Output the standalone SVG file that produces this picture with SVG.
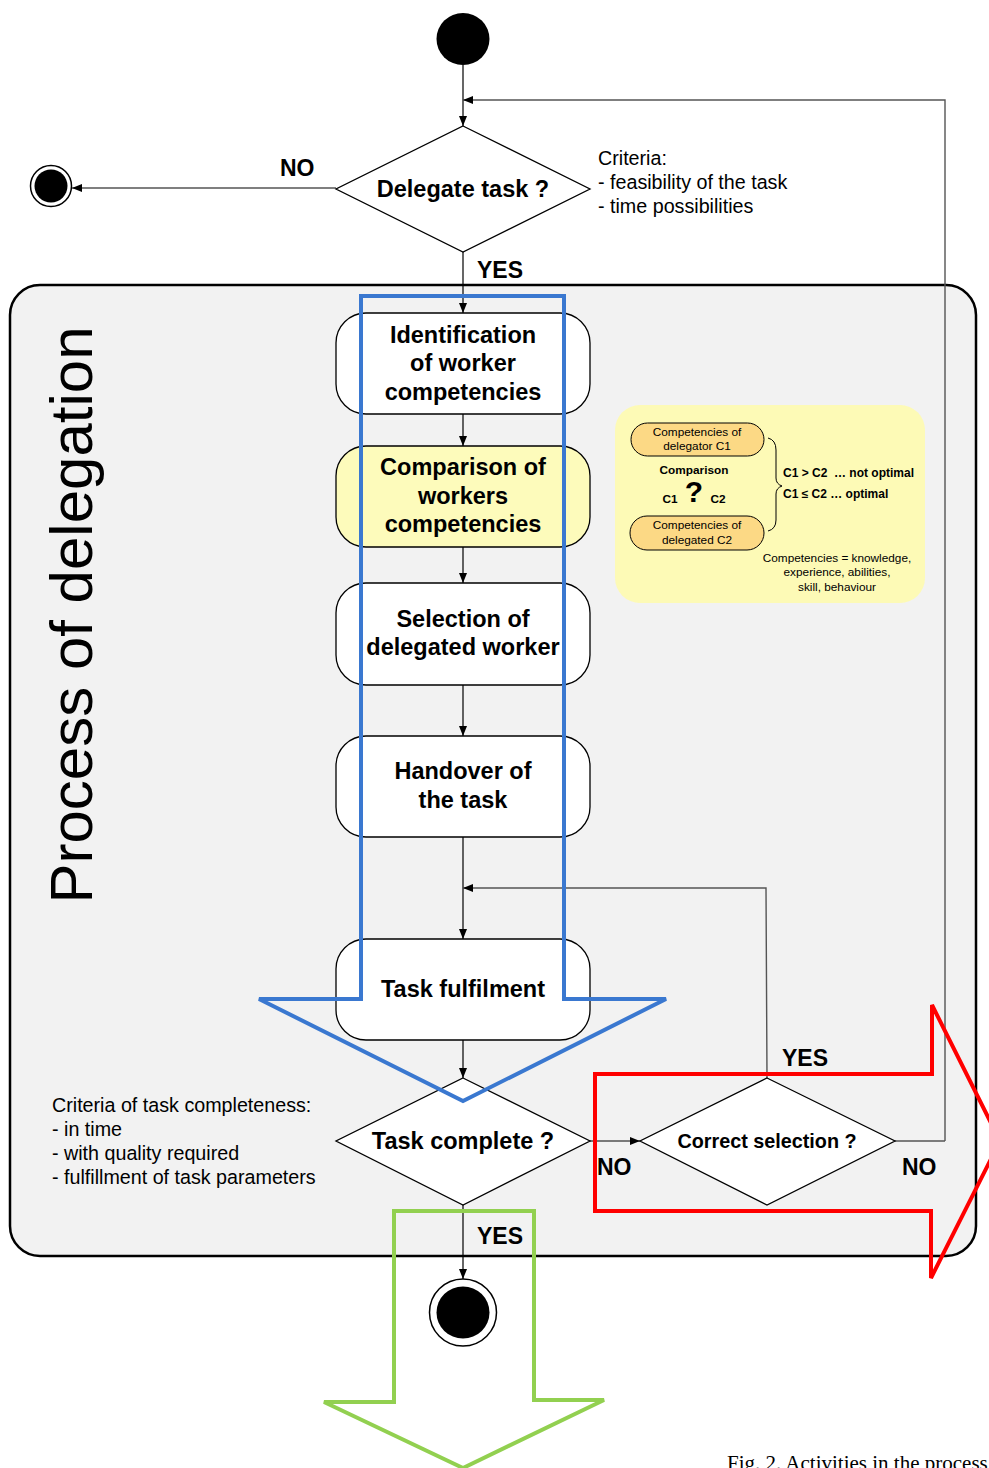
<svg xmlns="http://www.w3.org/2000/svg" width="989" height="1468" viewBox="0 0 989 1468">
<defs>
<marker id="ah" viewBox="0 0 10 10" refX="10" refY="5" markerWidth="10" markerHeight="10" markerUnits="userSpaceOnUse" orient="auto">
<path d="M0,1 L10,5 L0,9 Z" fill="#000"/>
</marker>
<style>
.bg{fill:#fff}
.lane{fill:#f2f2f2;stroke:#000;stroke-width:2.5}
.act{fill:#fff;stroke:#000;stroke-width:1.3}
.act2{fill:#fdfbbb;stroke:#000;stroke-width:1.3}
.dec{fill:#fff;stroke:#000;stroke-width:1.3}
.ln{fill:none;stroke:#000;stroke-width:1.2}
.lg{fill:none;stroke:#555;stroke-width:1.4}
.t{font-family:"Liberation Sans",Arial,sans-serif;fill:#000}
.tb{font-family:"Liberation Sans",Arial,sans-serif;font-weight:bold;fill:#000;text-anchor:middle}
.lbl{font-family:"Liberation Sans",Arial,sans-serif;font-weight:bold;font-size:23px;fill:#000}
.big{fill:none;stroke-width:4;stroke-linejoin:miter}
</style>
</defs>
<rect class="bg" x="0" y="0" width="989" height="1468"/>

<g id="lane">
<rect class="lane" x="10" y="285" width="966" height="971" rx="30"/>
<text class="t" transform="translate(92,615) rotate(-90)" font-size="60" text-anchor="middle">Process of delegation</text>
</g>

<g id="start"><ellipse cx="463" cy="39" rx="26.5" ry="26" fill="#000"/></g>
<g id="end-top">
<circle cx="51" cy="186" r="20.5" fill="#fff" stroke="#000" stroke-width="1.5"/>
<circle cx="51" cy="186" r="16.5" fill="#000"/>
</g>
<g id="end-bottom">
<ellipse cx="463" cy="1312.5" rx="33.5" ry="33.5" fill="#fff" stroke="#000" stroke-width="1.5"/>
<ellipse cx="463" cy="1312.5" rx="26.5" ry="26" fill="#000"/>
</g>

<g id="connectors">
<path class="ln" d="M463,65 V126" marker-end="url(#ah)"/>
<path class="lg" d="M945,1141 V100 H463" marker-end="url(#ah)"/>
<path class="lg" d="M336,188 H72" marker-end="url(#ah)"/>
<path class="ln" d="M463,252 V313" marker-end="url(#ah)"/>
<path class="ln" d="M463,414 V446" marker-end="url(#ah)"/>
<path class="ln" d="M463,547 V583" marker-end="url(#ah)"/>
<path class="ln" d="M463,685 V736" marker-end="url(#ah)"/>
<path class="ln" d="M463,837 V939" marker-end="url(#ah)"/>
<path class="lg" d="M767,1078 L766,888 H463" marker-end="url(#ah)"/>
<path class="ln" d="M463,1040 V1078" marker-end="url(#ah)"/>
<path class="ln" d="M590,1141 H640" marker-end="url(#ah)"/>
<path class="lg" d="M895,1141 H945"/>
<path class="ln" d="M463,1205 V1279" marker-end="url(#ah)"/>
</g>

<g id="d-delegate">
<polygon class="dec" points="463,126 590,189 463,252 336,189"/>
<text class="tb" x="463" y="197" font-size="23.5">Delegate task ?</text>
</g>
<g id="criteria">
<text class="t" x="598" y="165" font-size="19.7">Criteria:</text>
<text class="t" x="598" y="189" font-size="19.7">- feasibility of the task</text>
<text class="t" x="598" y="213" font-size="19.7">- time possibilities</text>
</g>
<g id="labels">
<text class="lbl" x="280" y="176">NO</text>
<text class="lbl" x="477" y="278">YES</text>
<text class="lbl" x="782" y="1066">YES</text>
<text class="lbl" x="597" y="1175">NO</text>
<text class="lbl" x="902" y="1175">NO</text>
<text class="lbl" x="477" y="1244">YES</text>
</g>

<g id="a1">
<rect class="act" x="336" y="313" width="254" height="101" rx="30"/>
<text class="tb" font-size="23.5"><tspan x="463" y="343">Identification</tspan><tspan x="463" y="371">of worker</tspan><tspan x="463" y="400">competencies</tspan></text>
</g>
<g id="a2">
<rect class="act2" x="336" y="446" width="254" height="101" rx="30"/>
<text class="tb" font-size="23.5"><tspan x="463" y="475">Comparison of</tspan><tspan x="463" y="504">workers</tspan><tspan x="463" y="532">competencies</tspan></text>
</g>
<g id="a3">
<rect class="act" x="336" y="583" width="254" height="102" rx="30"/>
<text class="tb" font-size="23.5"><tspan x="463" y="627">Selection of</tspan><tspan x="463" y="655">delegated worker</tspan></text>
</g>
<g id="a4">
<rect class="act" x="336" y="736" width="254" height="101" rx="30"/>
<text class="tb" font-size="23.5"><tspan x="463" y="779">Handover of</tspan><tspan x="463" y="808">the task</tspan></text>
</g>
<g id="a5">
<rect class="act" x="336" y="939" width="254" height="101" rx="30"/>
<text class="tb" x="463" y="997" font-size="23.5">Task fulfilment</text>
</g>

<g id="d-complete">
<polygon class="dec" points="463,1078 590,1141 463,1205 336,1141"/>
<text class="tb" x="463" y="1149" font-size="23.5">Task complete ?</text>
</g>
<g id="d-correct">
<polygon class="dec" points="767,1078 895,1141 767,1205 640,1141"/>
<text class="tb" x="767" y="1148" font-size="19.8">Correct selection ?</text>
</g>

<g id="completeness">
<text class="t" x="52" y="1112" font-size="19.7">Criteria of task completeness:</text>
<text class="t" x="52" y="1136" font-size="19.7">- in time</text>
<text class="t" x="52" y="1160" font-size="19.7">- with quality required</text>
<text class="t" x="52" y="1184" font-size="19.7">- fulfillment of task parameters</text>
</g>

<g id="note">
<rect x="615" y="405" width="310" height="198" rx="25" fill="#fdfab6"/>
<rect x="631" y="423" width="133" height="33" rx="16.5" fill="#fcd985" stroke="#000" stroke-width="1"/>
<text class="t" font-size="11.8" text-anchor="middle"><tspan x="697" y="436">Competencies of</tspan><tspan x="697" y="450">delegator C1</tspan></text>
<rect x="630" y="516" width="134" height="34" rx="17" fill="#fcd985" stroke="#000" stroke-width="1"/>
<text class="t" font-size="11.8" text-anchor="middle"><tspan x="697" y="529">Competencies of</tspan><tspan x="697" y="544">delegated C2</tspan></text>
<text class="tb" x="694" y="474" font-size="11.8">Comparison</text>
<text class="tb" x="670" y="503" font-size="11.8">C1</text>
<text class="tb" x="694" y="502" font-size="30">?</text>
<text class="tb" x="718" y="503" font-size="11.8">C2</text>
<path d="M768,438 Q776,440 776,450 L776,478 Q776,484 782,486 Q776,488 776,494 L776,520 Q776,529 768,531" fill="none" stroke="#000" stroke-width="1"/>
<text class="t" x="783" y="477" font-size="12" font-weight="bold" xml:space="preserve">C1 &gt; C2  … not optimal</text>
<text class="t" x="783" y="498" font-size="12" font-weight="bold">C1 ≤ C2 … optimal</text>
<text class="t" font-size="11.8" text-anchor="middle"><tspan x="837" y="562">Competencies = knowledge,</tspan><tspan x="837" y="576">experience, abilities,</tspan><tspan x="837" y="591">skill, behaviour</tspan></text>
</g>

<g id="blue-arrow">
<polygon class="big" stroke="#3a78d0" points="361,296 564,296 564,999 666,999 463,1101 259,999 361,999"/>
</g>
<g id="red-arrow">
<polygon class="big" stroke="#ff0000" points="595,1074 932,1074 932,1005 1000,1141 931,1278 931,1211 595,1211"/>
</g>
<g id="green-arrow">
<polygon class="big" stroke="#92d050" points="394,1211 534,1211 534,1400 604,1400 463,1468 324,1402 394,1402"/>
</g>

<text x="727" y="1470" font-family="'Liberation Serif','Times New Roman',serif" font-size="21" fill="#000">Fig. 2. Activities in the process</text>
</svg>
